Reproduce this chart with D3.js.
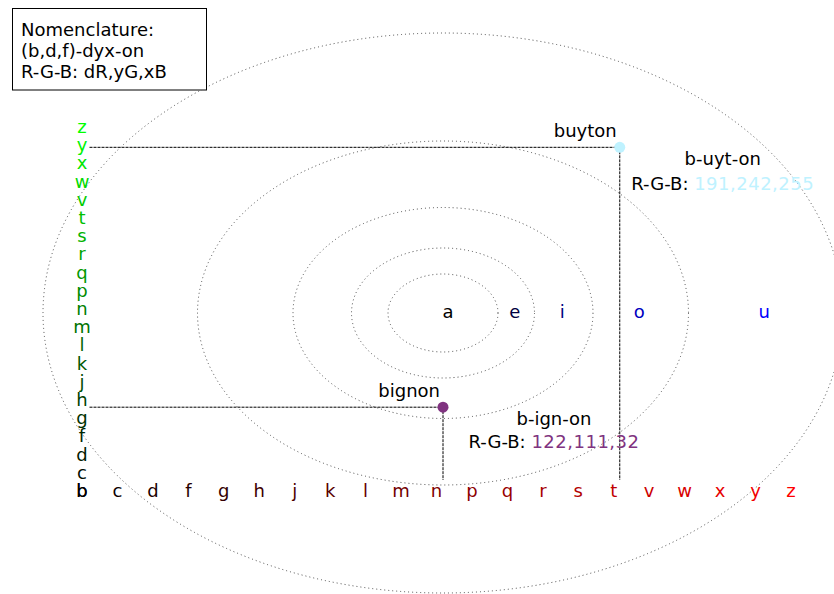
<!DOCTYPE html>
<html>
<head>
<meta charset="utf-8">
<script src="https://cdn.jsdelivr.net/npm/d3@7"></script>
<style>
  html, body { margin: 0; padding: 0; background: #fff; }
  svg { display: block; font-family: "DejaVu Sans", Verdana, sans-serif; }
</style>
</head>
<body>
<script>
// ---------------- DATA ----------------
const consonants = ["b","c","d","f","g","h","j","k","l","m","n","p","q","r","s","t","v","w","x","y","z"];
const vowels = ["a","e","i","o","u"];
const legendLines = ["Nomenclature:", "(b,d,f)-dyx-on", "R-G-B: dR,yG,xB"];
// words: first consonant (d) on x, second consonant (y) on y, vowel (x) on rings
const wordNames = ["buyton", "bignon"];
const wordD = ["t", "n"];
const wordY = ["y", "g"];
const wordV = ["u", "i"];
const wordCodes = ["b-uyt-on", "b-ign-on"];
const wordRGBLabels = ["191,242,255", "122,111,32"];
const ringLevels = [1, 2, 3, 4, 5];

// ---------------- LAYOUT ----------------
const W = 834, H = 594;
const cx = 443, cy = 313;
const ringRx = [55, 91.5, 150, 245.5, 400];
const ringRy = [39, 65, 105.5, 172, 280];
const fontSize = 18;
const annot = {
  buyton: { dx: 103, dy1: 18, dy2: 43 },
  bignon: { dx: 111, dy1: 18, dy2: 41 }
};

const svg = d3.select("body").append("svg").attr("width", W).attr("height", H);

// scales
const xMark = d3.scalePoint().domain(consonants).range([89.5, 796.5]);
const yMark = d3.scalePoint().domain(consonants).range([476.5, 130]);
const xLabel = d3.scalePoint().domain(consonants).range([82, 791]);
const yLabel = d3.scalePoint().domain(consonants).range([497, 133]);
const idx = d3.scaleOrdinal().domain(consonants).range(d3.range(consonants.length));
const vIdx = d3.scaleOrdinal().domain(vowels).range(d3.range(vowels.length));
const redC = d3.scaleLinear().domain([0, consonants.length - 1]).range([0, 255]);
const greenC = d3.scaleLinear().domain([0, consonants.length - 1]).range([0, 255]);
const blueC = d3.scaleLinear().domain([0, vowels.length - 1]).range([0, 255]);
const rgb = (r, g, b) => `rgb(${Math.round(r)},${Math.round(g)},${Math.round(b)})`;

// rings
svg.append("g").selectAll("ellipse").data(ringLevels).join("ellipse")
  .attr("cx", cx).attr("cy", cy)
  .attr("rx", (d, i) => ringRx[i]).attr("ry", (d, i) => ringRy[i])
  .attr("fill", "none").attr("stroke", "#4a4a4a").attr("stroke-width", 1)
  .attr("stroke-dasharray", "1,3");

// vowels
svg.append("g").selectAll("text").data(vowels).join("text")
  .attr("x", (d, i) => i === 0 ? cx + 5 : cx + (ringRx[i - 1] + ringRx[i]) / 2 - 1.5)
  .attr("y", 318)
  .attr("text-anchor", "middle")
  .attr("font-size", fontSize)
  .attr("fill", d => rgb(0, 0, blueC(vIdx(d))))
  .text(d => d);

// x-axis consonants
svg.append("g").selectAll("text").data(consonants).join("text")
  .attr("x", d => xLabel(d)).attr("y", 497)
  .attr("text-anchor", "middle").attr("font-size", fontSize)
  .attr("fill", d => rgb(redC(idx(d)), 0, 0))
  .text(d => d);

// y-axis consonants
svg.append("g").selectAll("text").data(consonants).join("text")
  .attr("x", 82).attr("y", d => yLabel(d))
  .attr("text-anchor", "middle").attr("font-size", fontSize)
  .attr("fill", d => rgb(0, greenC(idx(d)), 0))
  .text(d => d);

// words
const words = wordNames.map((n, i) => ({
  name: n, d: wordD[i], y: wordY[i], v: wordV[i], code: wordCodes[i], lab: wordRGBLabels[i]
}));
const gw = svg.append("g");
words.forEach(w => {
  const px = xMark(w.d), py = yMark(w.y);
  const col = rgb(redC(idx(w.d)), greenC(idx(w.y)), blueC(vIdx(w.v)));
  gw.append("line").attr("x1", xMark(consonants[0])).attr("x2", px)
    .attr("y1", py).attr("y2", py)
    .attr("stroke", "#000").attr("stroke-width", 1).attr("stroke-dasharray", "3,1");
  gw.append("line").attr("x1", px).attr("x2", px)
    .attr("y1", py).attr("y2", yMark(consonants[0]) + 3.5)
    .attr("stroke", "#000").attr("stroke-width", 1).attr("stroke-dasharray", "3,1");
  gw.append("circle").attr("cx", px).attr("cy", py).attr("r", 5.5).attr("fill", col);
  gw.append("text").attr("x", px - 3).attr("y", py - 10)
    .attr("text-anchor", "end").attr("font-size", fontSize).attr("fill", "#000")
    .text(w.name);
  const a = annot[w.name];
  gw.append("text").attr("x", px + a.dx).attr("y", py + a.dy1)
    .attr("text-anchor", "middle").attr("font-size", fontSize).attr("fill", "#000")
    .text(w.code);
  const t = gw.append("text").attr("x", px + a.dx).attr("y", py + a.dy2)
    .attr("text-anchor", "middle").attr("font-size", fontSize).attr("fill", "#000");
  t.append("tspan").text("R-G-B: ");
  t.append("tspan").attr("fill", col).attr("letter-spacing", 0.5).text(w.lab);
});

// legend
const lg = svg.append("g");
lg.append("rect").attr("x", 12.5).attr("y", 8.5).attr("width", 194).attr("height", 81.5)
  .attr("fill", "#fff").attr("stroke", "#000").attr("stroke-width", 1);
lg.selectAll("text").data(legendLines).join("text")
  .attr("x", 21).attr("y", (d, i) => 36 + i * 20.8)
  .attr("font-size", fontSize).attr("fill", "#000")
  .text(d => d);
</script>
</body>
</html>
